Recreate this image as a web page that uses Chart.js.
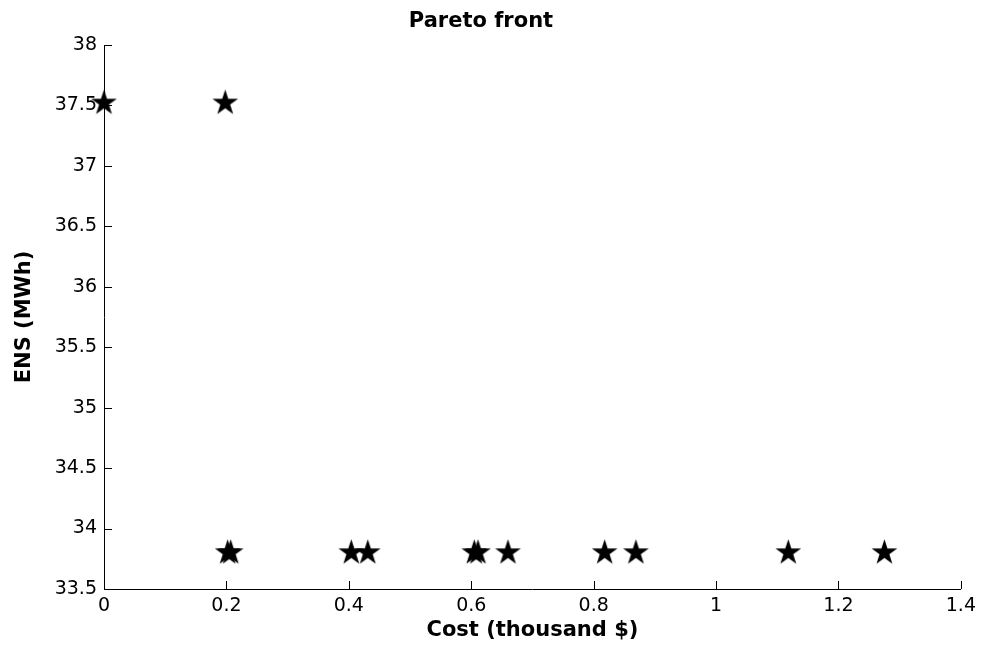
<!DOCTYPE html>
<html>
<head>
<meta charset="utf-8">
<script src="https://cdn.jsdelivr.net/npm/chart.js@4/dist/chart.umd.min.js"></script>
<style>
  html, body { margin: 0; padding: 0; background: #fff; }
  #wrap { width: 982px; height: 647px; position: relative; }
</style>
</head>
<body>
<div id="wrap"><canvas id="chart" width="982" height="647"></canvas></div>
<script>
// Pareto-optimal solutions: investment cost vs. energy not supplied
const cost = [0, 0.198, 0.202, 0.207, 0.404, 0.431, 0.605, 0.611, 0.660, 0.818, 0.869, 1.118, 1.275];
const ens  = [37.52, 37.52, 33.80, 33.80, 33.80, 33.80, 33.80, 33.80, 33.80, 33.80, 33.80, 33.80, 33.80];

const xTicks = [0, 0.2, 0.4, 0.6, 0.8, 1, 1.2, 1.4];
const yTicks = [33.5, 34, 34.5, 35, 35.5, 36, 36.5, 37, 37.5, 38];

const chartTitle = 'Pareto front';
const xTitle = 'Cost (thousand $)';
const yTitle = 'ENS (MWh)';

// filled five-pointed star marker
function makeStar(r) {
  const s = Math.ceil(r * 2 + 2);
  const c = document.createElement('canvas');
  c.width = s; c.height = s;
  const g = c.getContext('2d');
  g.fillStyle = '#000';
  g.beginPath();
  for (let i = 0; i < 10; i++) {
    const rad = i % 2 === 0 ? r : r * 0.382;
    const a = -Math.PI / 2 + i * Math.PI / 5;
    g.lineTo(s / 2 + rad * Math.cos(a), s / 2 + rad * Math.sin(a));
  }
  g.closePath();
  g.fill();
  return c;
}
const star = makeStar(13.5);

// short tick marks drawn inside the plot box
const inwardTicks = {
  id: 'inwardTicks',
  afterDatasetsDraw(chart) {
    const { ctx, chartArea, scales } = chart;
    ctx.save();
    ctx.strokeStyle = '#000';
    ctx.lineWidth = 1;
    ctx.beginPath();
    xTicks.forEach(v => {
      const px = Math.round(scales.x.getPixelForValue(v)) + 0.5;
      ctx.moveTo(px, chartArea.bottom);
      ctx.lineTo(px, chartArea.bottom - 8);
    });
    yTicks.forEach(v => {
      const py = Math.round(scales.y.getPixelForValue(v)) + 0.5;
      ctx.moveTo(chartArea.left, py);
      ctx.lineTo(chartArea.left + 8, py);
    });
    ctx.stroke();
    ctx.restore();
  }
};

const fmt = v => String(Number(v.toFixed(1)));

new Chart(document.getElementById('chart'), {
  type: 'scatter',
  data: {
    datasets: [{
      data: cost.map((c, i) => ({ x: c, y: ens[i] })),
      pointStyle: star,
      pointRadius: 13,
      pointHoverRadius: 13,
      clip: false
    }]
  },
  options: {
    responsive: false,
    animation: false,
    events: [],
    layout: { padding: { left: 0, right: 20, top: 0, bottom: 0 } },
    plugins: {
      legend: { display: false },
      tooltip: { enabled: false },
      title: {
        display: true,
        text: chartTitle,
        color: '#000',
        font: { family: 'DejaVu Sans', size: 21, weight: 'bold' },
        padding: { top: 9, bottom: 10.8 }
      }
    },
    scales: {
      x: {
        type: 'linear',
        min: 0, max: 1.4,
        afterBuildTicks: s => { s.ticks = xTicks.map(v => ({ value: v })); },
        afterFit: s => { s.height = 58; },
        grid: { display: true, drawOnChartArea: false, drawTicks: false },
        border: { display: true, color: '#000', width: 1 },
        ticks: {
          color: '#000',
          padding: 6,
          maxRotation: 0,
          font: { family: 'DejaVu Sans', size: 19 },
          callback: v => fmt(v)
        },
        title: {
          display: true,
          text: xTitle,
          color: '#000',
          font: { family: 'DejaVu Sans', size: 21, weight: 'bold' },
          padding: { top: 0, bottom: 4 }
        }
      },
      y: {
        type: 'linear',
        min: 33.5, max: 38,
        afterBuildTicks: s => { s.ticks = yTicks.map(v => ({ value: v })); },
        afterFit: s => { s.width = 104; },
        grid: { display: true, drawOnChartArea: false, drawTicks: false },
        border: { display: true, color: '#000', width: 1 },
        ticks: {
          color: '#000',
          padding: 7,
          font: { family: 'DejaVu Sans', size: 19 },
          callback: v => fmt(v)
        },
        title: {
          display: true,
          text: yTitle,
          color: '#000',
          font: { family: 'DejaVu Sans', size: 21, weight: 'bold' },
          padding: { top: 12, bottom: 0 }
        }
      }
    }
  },
  plugins: [inwardTicks]
});
</script>
</body>
</html>
